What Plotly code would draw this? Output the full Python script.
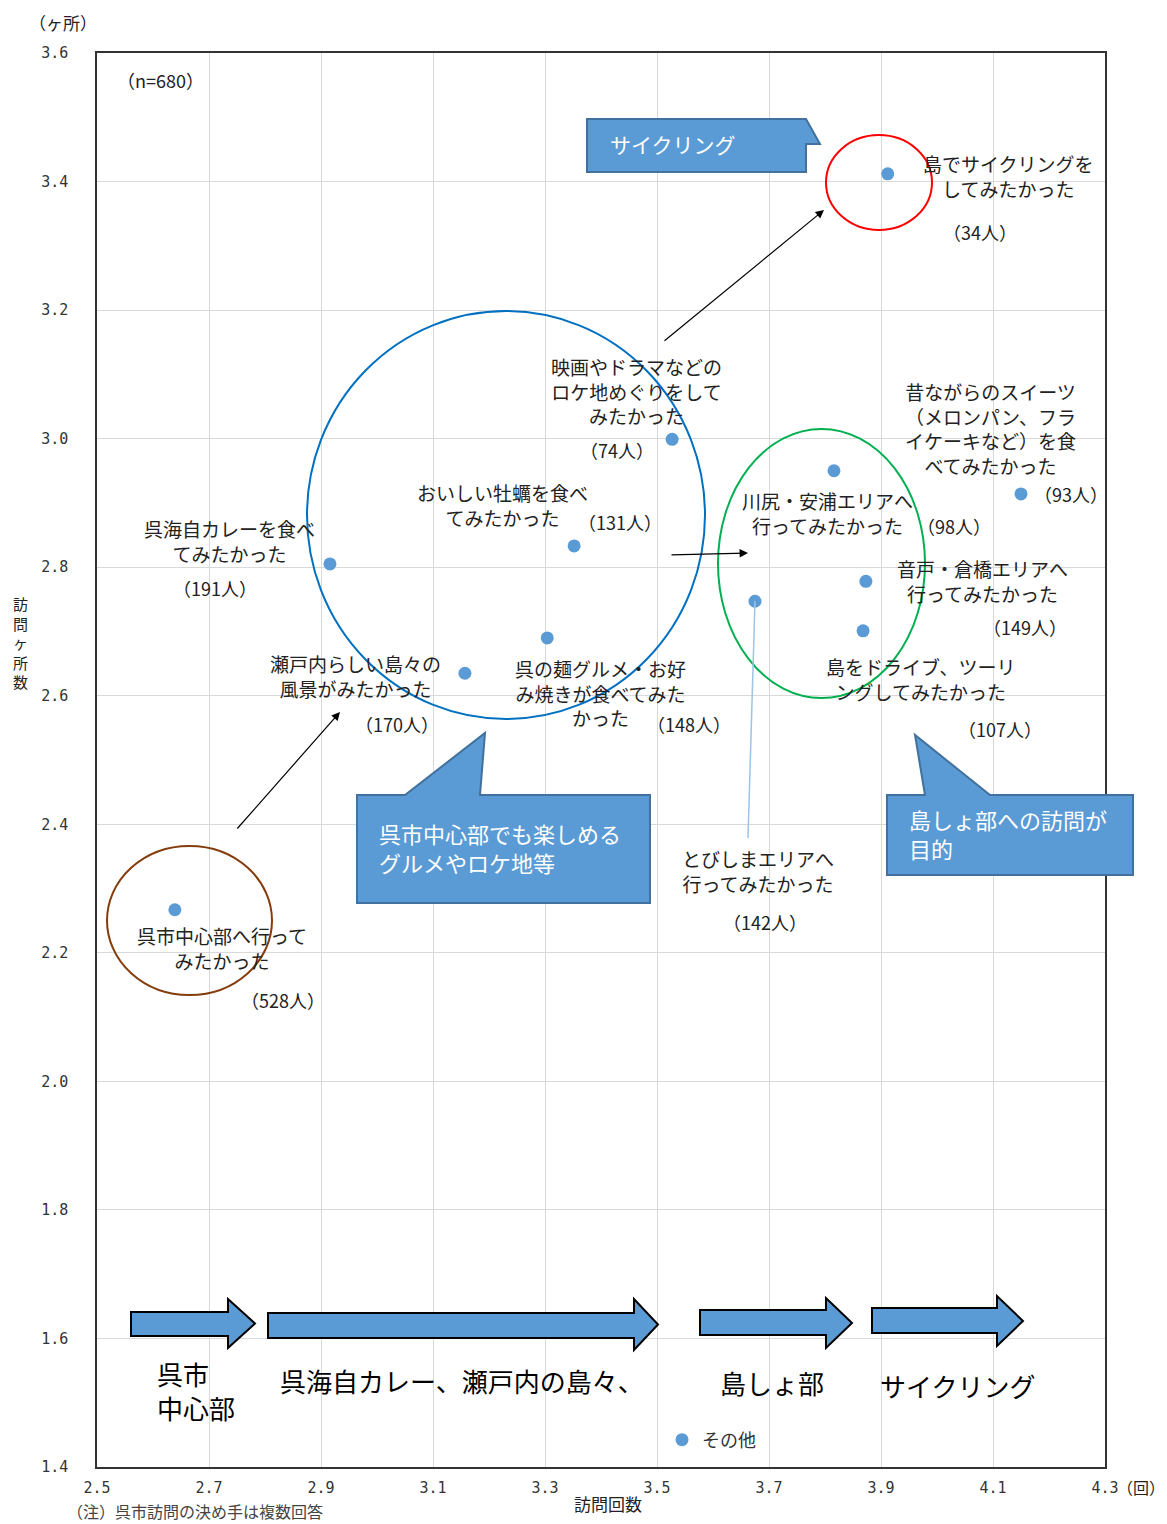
import plotly.graph_objects as go

# 呉市訪問の決め手別 訪問回数 × 訪問ヶ所数
labels = [
    "島でサイクリングを<br>してみたかった",
    "映画やドラマなどの<br>ロケ地めぐりをして<br>みたかった",
    "昔ながらのスイーツ<br>（メロンパン、フラ<br>イケーキなど）を食<br>べてみたかった",
    "川尻・安浦エリアへ<br>行ってみたかった",
    "おいしい牡蠣を食べ<br>てみたかった",
    "呉海自カレーを食べ<br>てみたかった",
    "音戸・倉橋エリアへ<br>行ってみたかった",
    "とびしまエリアへ<br>行ってみたかった",
    "島をドライブ、ツーリ<br>ングしてみたかった",
    "呉の麺グルメ・お好<br>み焼きが食べてみた<br>かった",
    "瀬戸内らしい島々の<br>風景がみたかった",
    "呉市中心部へ行って<br>みたかった",
]
visits = [3.912, 3.527, 4.150, 3.816, 3.352, 2.916, 3.873, 3.675, 3.868, 3.304, 3.157, 2.639]
places = [3.412, 2.999, 2.914, 2.950, 2.833, 2.805, 2.778, 2.747, 2.701, 2.690, 2.635, 2.267]
counts = [34, 74, 93, 98, 131, 191, 149, 142, 107, 148, 170, 528]

x_ticks = [2.5, 2.7, 2.9, 3.1, 3.3, 3.5, 3.7, 3.9, 4.1, 4.3]
y_ticks = [1.4, 1.6, 1.8, 2.0, 2.2, 2.4, 2.6, 2.8, 3.0, 3.2, 3.4, 3.6]

# reference pixel -> paper helpers
L, R, T, B = 97, 1105, 53, 1467
def px(x):
    return (x - L) / (R - L)
def py(y):
    return (B - y) / (B - T)

FONT = "Noto Sans CJK JP"
BLUE = "#5B9BD5"

# where each label / count sits (pixel centres in the picture)
label_pos = [(1008, 176), (636, 391), (990, 428), (827, 513), (502, 505), (229, 541),
             (982, 581), (758, 871), (920, 679), (600, 693), (355, 676), (222, 948)]
count_pos = [(980, 232), (617, 450), (1071, 494), (954, 526), (620, 522), (215, 588),
             (1025, 627), (765, 922), (1000, 729), (689, 724), (397, 724), (283, 1000)]

def note(text, x, y, size=19, color="#222", xanchor="center", align="center"):
    return dict(text=text, x=px(x), y=py(y), xref="paper", yref="paper", showarrow=False,
                xanchor=xanchor, yanchor="middle", align=align,
                font=dict(size=size, color=color))

fig = go.Figure()
fig.add_trace(go.Scatter(
    x=visits, y=places, mode="markers", name="その他",
    marker=dict(color=BLUE, size=13),
    hovertext=[l.replace("<br>", "") for l in labels],
))

ann = []
for lab, (lx, ly) in zip(labels, label_pos):
    ann.append(note(lab, lx, ly))
for c, (cx, cy) in zip(counts, count_pos):
    ann.append(note(f"（{c}人）", cx, cy, 18))

# misc texts
ann += [
    note("（n=680）", 160, 80, 18),
    note("（ヶ所）", 63, 22, 17),
    note("訪<br>問<br>ヶ<br>所<br>数", 20, 642, 15),
    note("（回）", 1167, 1487, 16, xanchor="right"),
    note("訪問回数", 608, 1503, 17),
    note("（注）呉市訪問の決め手は複数回答", 65, 1511, 16, "#444", "left", "left"),
]

# callout texts (white)
for t, x, y, s in [("サイクリング", 608, 144, 21),
                   ("呉市中心部でも楽しめる<br>グルメやロケ地等", 377, 848, 22),
                   ("島しょ部への訪問が<br>目的", 907, 834, 22)]:
    ann.append(note(t, x, y, s, "white", "left", "left"))

# bottom arrow labels
ann += [
    note("呉市<br>中心部", 155, 1390, 26, "black", "left", "left"),
    note("呉海自カレー、瀬戸内の島々、", 278, 1380, 26, "black", "left", "left"),
    note("島しょ部", 772, 1382, 26, "black"),
    note("サイクリング", 957, 1385, 26, "black"),
]

# thin arrows
for tip, tail in [((824, 210), (663, 342)), ((340, 712), (236, 830)), ((748, 553), (670, 555))]:
    ann.append(dict(text="", x=px(tip[0]), y=py(tip[1]), xref="paper", yref="paper",
                    showarrow=True, ax=tail[0] - tip[0], ay=tail[1] - tip[1],
                    arrowhead=2, arrowsize=1.4, arrowwidth=1.2, arrowcolor="black"))

def path(pts):
    s = "M" + " L".join(f"{px(x):.5f},{py(y):.5f}" for x, y in pts)
    return s + " Z"

shapes = []
# circles
for x0, y0, x1, y1, col in [(826, 135, 932, 230, "#FF0000"),
                            (307, 311, 705, 719, "#0070C0"),
                            (718, 429, 925, 698, "#00B050"),
                            (107, 846, 272, 995, "#843C0C")]:
    shapes.append(dict(type="circle", xref="paper", yref="paper",
                       x0=px(x0), x1=px(x1), y0=py(y1), y1=py(y0),
                       line=dict(color=col, width=2)))
# leader line to とびしま
shapes.append(dict(type="line", xref="paper", yref="paper", x0=px(755), y0=py(601),
                   x1=px(748), y1=py(838), line=dict(color="#9DC3E6", width=1.5)))
# callout boxes
callouts = [
    [(587, 119), (806, 119), (820, 144), (806, 144), (806, 172), (587, 172)],
    [(357, 795), (405, 795), (485, 733), (480, 795), (650, 795), (650, 903), (357, 903)],
    [(887, 795), (925, 795), (915, 735), (990, 795), (1133, 795), (1133, 875), (887, 875)],
]
for pts in callouts:
    shapes.append(dict(type="path", xref="paper", yref="paper", path=path(pts),
                       fillcolor=BLUE, line=dict(color="#41719C", width=2)))
# block arrows
def block(x0, xh, x1, yb0, yb1, yh0, yh1):
    ym = (yh0 + yh1) / 2
    return [(x0, yb0), (xh, yb0), (xh, yh0), (x1, ym), (xh, yh1), (xh, yb1), (x0, yb1)]
for args in [(131, 228, 255, 1312, 1336, 1299, 1348),
             (268, 634, 658, 1313, 1338, 1299, 1350),
             (700, 826, 852, 1310, 1335, 1298, 1348),
             (872, 997, 1023, 1308, 1333, 1296, 1346)]:
    shapes.append(dict(type="path", xref="paper", yref="paper", path=path(block(*args)),
                       fillcolor=BLUE, line=dict(color="black", width=2)))

axis_common = dict(showline=True, mirror=True, linecolor="#333", linewidth=1.5,
                   showgrid=True, gridcolor="#D9D9D9", gridwidth=1, zeroline=False,
                   ticks="", tickformat=".1f",
                   tickfont=dict(family="DejaVu Sans Mono", size=15, color="#333"))

fig.update_layout(
    width=1167, height=1524,
    margin=dict(l=97, r=62, t=53, b=57),
    paper_bgcolor="white", plot_bgcolor="white",
    font=dict(family=FONT, color="#222"),
    xaxis=dict(range=[2.5, 4.3], tickvals=x_ticks, ticklabelstandoff=6, **axis_common),
    yaxis=dict(range=[1.4, 3.6], tickvals=y_ticks, ticklabelstandoff=24, **axis_common),
    showlegend=True,
    legend=dict(x=px(662), y=py(1440), xanchor="left", yanchor="middle",
                bgcolor="rgba(0,0,0,0)", font=dict(size=18, color="#333")),
    annotations=ann,
    shapes=shapes,
)

fig.write_html("out.html", config={"displayModeBar": False},
               post_script="document.body.style.margin='0';")
